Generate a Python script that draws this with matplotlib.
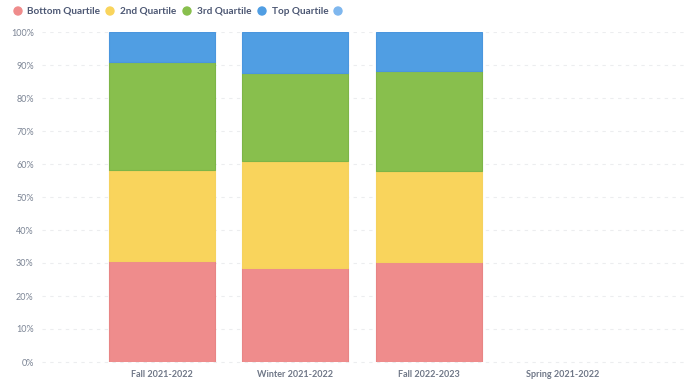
import matplotlib
matplotlib.use("Agg")
import matplotlib.pyplot as plt
from matplotlib.patches import Circle
import numpy as np

categories = ["Fall 2021-2022", "Winter 2021-2022", "Fall 2022-2023", "Spring 2021-2022"]
series_names = ["Bottom Quartile", "2nd Quartile", "3rd Quartile", "Top Quartile", ""]
bottom_q = [30.7, 28.5, 30.4, 0]
second_q = [27.5, 32.3, 27.6, 0]
third_q = [32.6, 26.8, 30.3, 0]
top_q = [9.2, 12.4, 11.7, 0]
extra_q = [0, 0, 0, 0]
y_ticks = [0, 10, 20, 30, 40, 50, 60, 70, 80, 90, 100]

colors = ["#EF8C8C", "#F9D45C", "#88BF4D", "#509EE3", "#7FB7EE"]
edge_colors = ["#E88585", "#F5D25E", "#7DB547", "#4A96DE", "#7FB7EE"]

plt.rcParams['font.family'] = ['Lato', 'DejaVu Sans']

fig = plt.figure(figsize=(6.9, 3.91), dpi=100)
W, H = 690, 391
ax = fig.add_axes([42 / W, (391 - 362) / H, 643 / W, 330 / H])

x = np.arange(len(categories))
series = [bottom_q, second_q, third_q, top_q, extra_q]
bottom = np.zeros(len(categories))
for vals, c, ec in zip(series, colors, edge_colors):
    v = np.array(vals, dtype=float)
    lw = [0.8 if val > 0 else 0 for val in v]
    ax.bar(x, v, width=0.794, bottom=bottom, color=c, edgecolor=ec, linewidth=lw)
    bottom += v

ax.set_ylim(0, 100)
ax.set_xlim(-0.899, 3.918)
ax.set_yticks(y_ticks)
ax.set_yticklabels([f"{t}%" for t in y_ticks])
ax.set_xticks(x)
ax.set_xticklabels(categories, fontweight='bold')
for s in ax.spines.values():
    s.set_visible(False)
ax.tick_params(axis='both', length=0)
ax.tick_params(axis='y', labelsize=6.5, labelcolor='#7C8595', pad=6)
ax.tick_params(axis='x', labelsize=6.5, labelcolor='#6F7787', pad=6)
ax.yaxis.grid(True, color='#ECEDEF', linestyle=(0, (3, 4)), linewidth=0.8)
ax.set_axisbelow(True)
ax.yaxis.get_gridlines()[0].set_clip_on(False)

# legend
dots = [18, 110, 187, 262, 338]
texts = [27, 120, 197, 272]
yc = 11
for i, (dx, c) in enumerate(zip(dots, colors)):
    circ = Circle((dx / 100, (H - yc) / 100), radius=0.047,
                  transform=fig.dpi_scale_trans, facecolor=c, edgecolor='none')
    fig.patches.append(circ)
    if i < len(texts):
        fig.text(texts[i] / W, 1 - yc / H, series_names[i], fontsize=7.2,
                 fontweight='bold', color='#4C5773', va='center', ha='left')

fig.savefig("out.png", dpi=100)
